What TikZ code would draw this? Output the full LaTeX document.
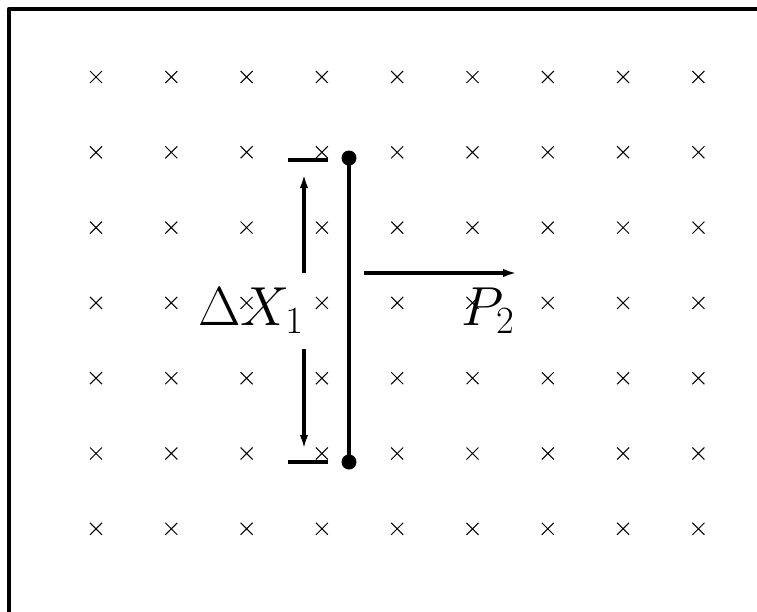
\RequirePackage{fix-cm}
\documentclass[tikz,border=0pt]{standalone}
\usepackage{amsmath}
\usetikzlibrary{arrows.meta}
\tikzset{
  every picture/.style={line join=round, >={Latex[length=7pt,width=4.2pt]}},
  heavy/.style={line width=1.6pt},
  frameline/.style={line width=2.1pt},
  cross/.style={line width=0.5pt},
  endpt/.style={circle,fill,inner sep=0pt,minimum size=7.5pt},
  biglabel/.style={inner sep=0pt,font=\fontsize{27.5}{32}\selectfont},
}

\begin{document}
\begin{tikzpicture}[x=0.5pt,y=-0.5pt]
\useasboundingbox (0,0) rectangle (757,612);
% frame
\draw[frameline] (9,612)--(9,9)--(757,9);
% field crosses
\foreach \i in {0,...,8}{
  \foreach \j in {0,...,6}{
    \draw[cross] ({96+75.3*\i-6},{77+75.3*\j-6}) -- ++(12,12)
                 ({96+75.3*\i-6},{77+75.3*\j+6}) -- ++(12,-12);
  }
}
% rod
\node[endpt] (rodtop) at (349,158) {};
\node[endpt] (rodbot) at (349,462) {};
\draw[heavy] (rodtop.center) -- (rodbot.center);
% Delta X_1
\coordinate (ticktl) at (288,160); \coordinate (ticktr) at (328,160);
\coordinate (tickbl) at (288,462); \coordinate (tickbr) at (328,462);
\draw[heavy] (ticktl) -- (ticktr);
\draw[heavy] (tickbl) -- (tickbr);
\node[biglabel] (dx) at (251,311) {$\Delta X_1$};
\coordinate (dxup) at (304,273); \coordinate (dxupend) at (304,174);
\coordinate (dxdn) at (304,349); \coordinate (dxdnend) at (304,449);
\draw[heavy,->] (dxup) -- (dxupend);
\draw[heavy,->] (dxdn) -- (dxdnend);
% P_2
\coordinate (pstart) at (364,273); \coordinate (pend) at (517,273);
\draw[heavy,->] (pstart) -- (pend);
\node[biglabel] (p2) at (488,311) {$P_2$};
\end{tikzpicture}
\end{document}
